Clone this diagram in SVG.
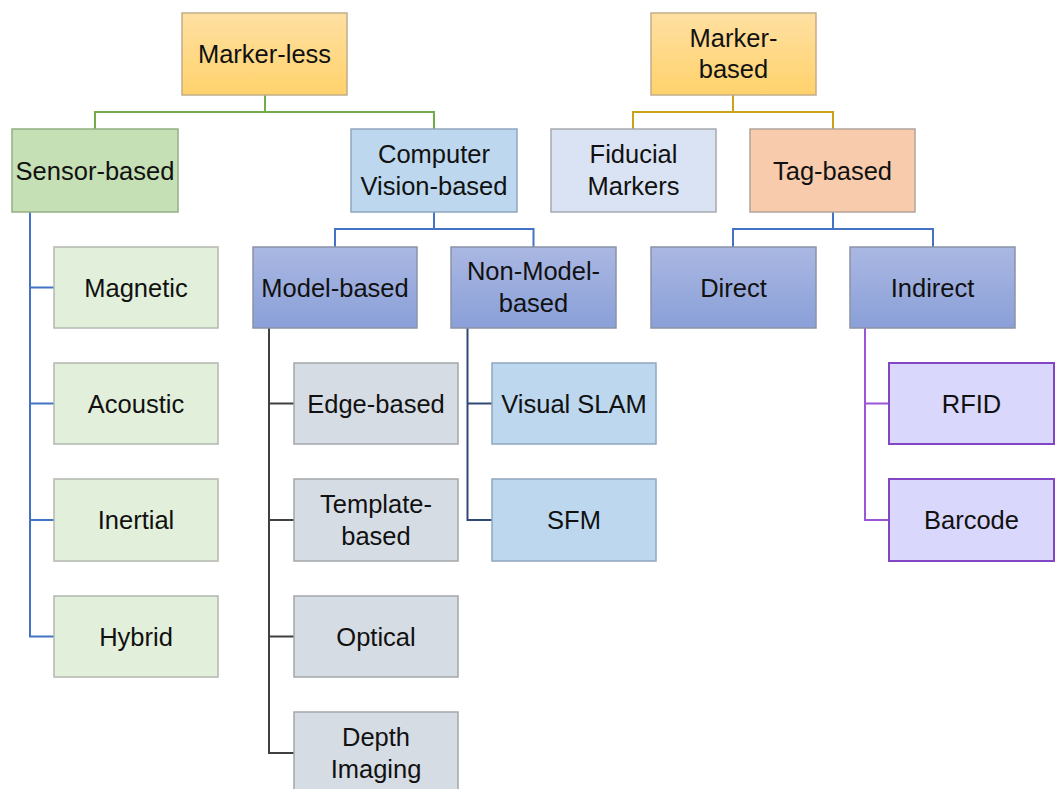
<svg xmlns="http://www.w3.org/2000/svg" width="1055" height="789" viewBox="0 0 1055 789">
<defs>
<linearGradient id="gOrange" x1="0" y1="0" x2="0" y2="1"><stop offset="0" stop-color="#ffe0a2"/><stop offset="1" stop-color="#ffd26c"/></linearGradient>
<linearGradient id="gBlue" x1="0" y1="0" x2="0" y2="1"><stop offset="0" stop-color="#aab7e2"/><stop offset="1" stop-color="#8aa0d8"/></linearGradient>
<style>
rect{stroke-width:1.5}
.or{fill:url(#gOrange);stroke:#c2ad88}
.sg{fill:#c5e0b4;stroke:#94ae84}
.lb{fill:#bdd7ee;stroke:#8fa7bf}
.lg{fill:#e2efda;stroke:#b3b8b0}
.bp{fill:url(#gBlue);stroke:#8a93a8}
.gr{fill:#d6dce4;stroke:#a3a6aa}
.fm{fill:#dae3f3;stroke:#a6a9ae}
.tg{fill:#f8cbad;stroke:#b3a49b}
.pu{fill:#d9d7fc;stroke:#8245c4;stroke-width:2}
text{font-family:"Liberation Sans",Arial,sans-serif;font-size:25.5px;fill:#111;text-anchor:middle}
.c{fill:none;stroke-width:2}
</style>
</defs>
<g id="connectors">
<path class="c" stroke="#70ad47" d="M265,95V112M95,129V112H434V129"/>
<path class="c" stroke="#c9a21a" d="M733,95V112M633,129V112H833V129"/>
<path class="c" stroke="#4472c4" d="M30,212V636.5H54M30,287.5H54M30,403.5H54M30,520H54"/>
<path class="c" stroke="#4472c4" d="M434,212V229M335,247V229H533.5V247"/>
<path class="c" stroke="#4472c4" d="M833,212V229M733,247V229H933V247"/>
<path class="c" stroke="#404040" d="M269,328V753H294M269,403.5H294M269,520H294M269,636.5H294"/>
<path class="c" stroke="#2f4875" d="M467.5,328V520H492M467.5,403.5H492"/>
<path class="c" stroke="#9b55d6" d="M865,328V520H889M865,403.5H889"/>
</g>
<g id="n-markerless"><rect class="or" x="182" y="13" width="165" height="82"/><text x="264.5" y="63">Marker-less</text></g>
<g id="n-markerbased"><rect class="or" x="651" y="13" width="165" height="82"/><text x="733.5" y="47">Marker-</text><text x="733.5" y="78">based</text></g>
<g id="n-sensor"><rect class="sg" x="12" y="129" width="166" height="83"/><text x="95" y="180">Sensor-based</text></g>
<g id="n-cv"><rect class="lb" x="351" y="129" width="166" height="83"/><text x="434" y="163">Computer</text><text x="434" y="195">Vision-based</text></g>
<g id="n-fiducial"><rect class="fm" x="551" y="129" width="165" height="83"/><text x="633.5" y="163">Fiducial</text><text x="633.5" y="195">Markers</text></g>
<g id="n-tag"><rect class="tg" x="750" y="129" width="165" height="83"/><text x="832.5" y="180">Tag-based</text></g>
<g id="n-magnetic"><rect class="lg" x="54" y="247" width="164" height="81"/><text x="136" y="296.5">Magnetic</text></g>
<g id="n-acoustic"><rect class="lg" x="54" y="363" width="164" height="81"/><text x="136" y="412.5">Acoustic</text></g>
<g id="n-inertial"><rect class="lg" x="54" y="479" width="164" height="82"/><text x="136" y="529">Inertial</text></g>
<g id="n-hybrid"><rect class="lg" x="54" y="596" width="164" height="81"/><text x="136" y="645.5">Hybrid</text></g>
<g id="n-model"><rect class="bp" x="253" y="247" width="164" height="81"/><text x="335" y="296.5">Model-based</text></g>
<g id="n-nonmodel"><rect class="bp" x="451" y="247" width="165" height="81"/><text x="533.5" y="280">Non-Model-</text><text x="533.5" y="312">based</text></g>
<g id="n-direct"><rect class="bp" x="651" y="247" width="165" height="81"/><text x="733.5" y="296.5">Direct</text></g>
<g id="n-indirect"><rect class="bp" x="850" y="247" width="165" height="81"/><text x="932.5" y="296.5">Indirect</text></g>
<g id="n-edge"><rect class="gr" x="294" y="363" width="164" height="81"/><text x="376" y="412.5">Edge-based</text></g>
<g id="n-template"><rect class="gr" x="294" y="479" width="164" height="82"/><text x="376" y="513">Template-</text><text x="376" y="545">based</text></g>
<g id="n-optical"><rect class="gr" x="294" y="596" width="164" height="81"/><text x="376" y="645.5">Optical</text></g>
<g id="n-depth"><rect class="gr" x="294" y="712" width="164" height="82"/><text x="376" y="746">Depth</text><text x="376" y="778">Imaging</text></g>
<g id="n-vslam"><rect class="lb" x="492" y="363" width="164" height="81"/><text x="574" y="412.5">Visual SLAM</text></g>
<g id="n-sfm"><rect class="lb" x="492" y="479" width="164" height="82"/><text x="574" y="529">SFM</text></g>
<g id="n-rfid"><rect class="pu" x="889" y="363" width="165" height="81"/><text x="971.5" y="412.5">RFID</text></g>
<g id="n-barcode"><rect class="pu" x="889" y="479" width="165" height="82"/><text x="971.5" y="529">Barcode</text></g>
</svg>
